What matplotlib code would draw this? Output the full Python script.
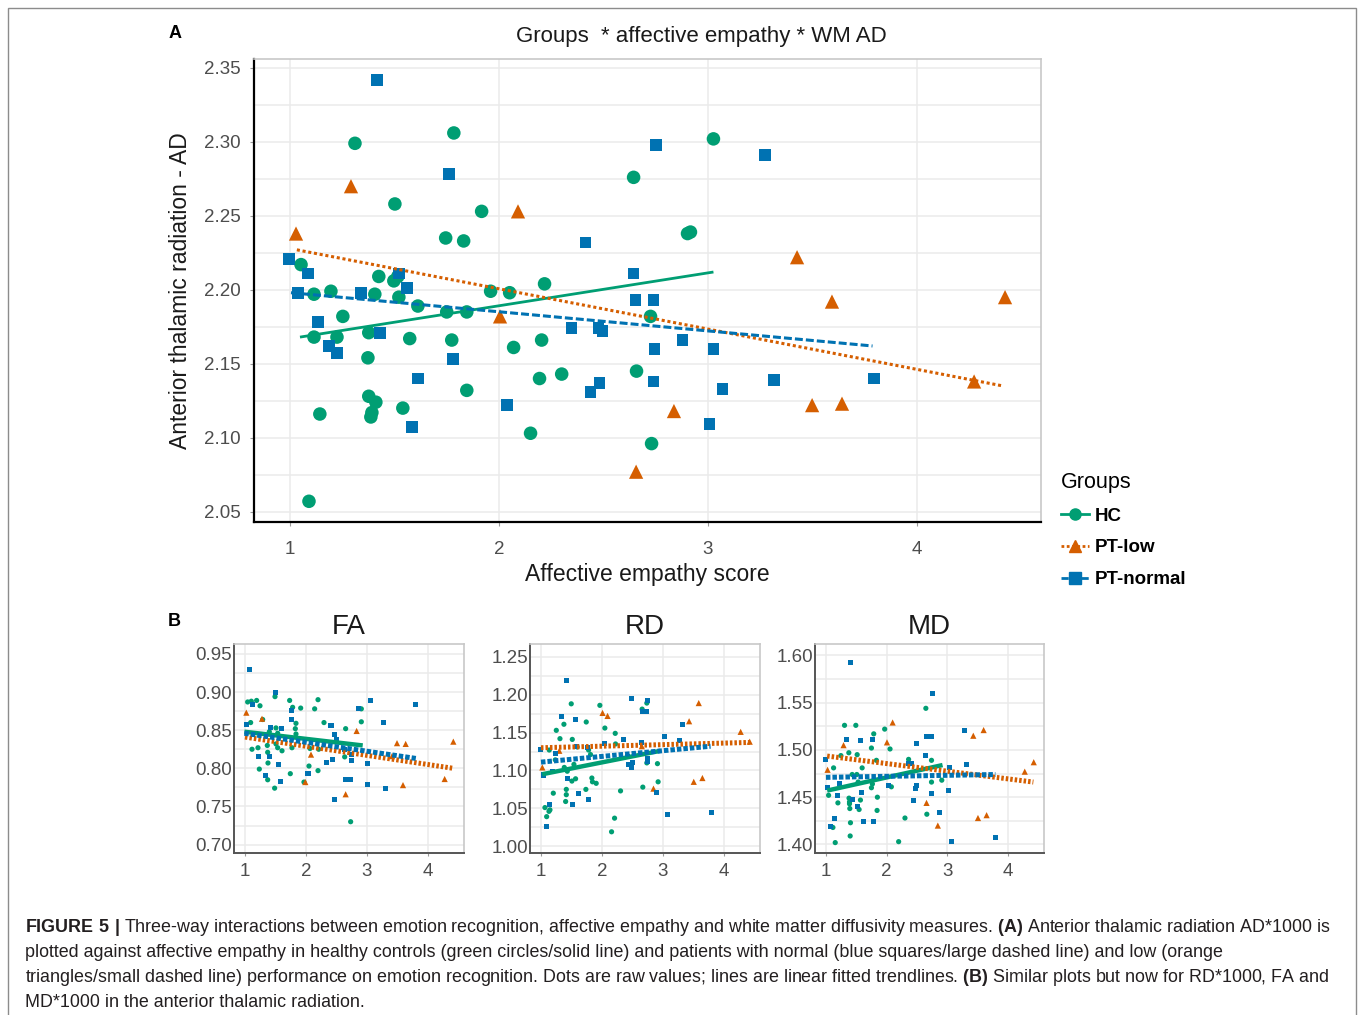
import matplotlib
matplotlib.use("Agg")
import matplotlib.pyplot as plt
from matplotlib.lines import Line2D
from matplotlib.patches import Rectangle
from matplotlib.ticker import MultipleLocator, FormatStrFormatter

plt.rcParams["font.family"] = ["Liberation Sans", "DejaVu Sans"]
plt.rcParams["mathtext.fontset"] = "custom"
plt.rcParams["mathtext.rm"] = "Liberation Sans"
plt.rcParams["mathtext.bf"] = "Liberation Sans:bold"

GROUPS = ["HC", "PT-low", "PT-normal"]
COLORS = {"HC": "#009E73", "PT-low": "#D55E00", "PT-normal": "#0072B2"}
MARKERS = {"HC": "o", "PT-low": "^", "PT-normal": "s"}

# ---- panel A: AD*1000 vs affective empathy ----
AD_HC_X = [1.311, 1.784, 3.026, 2.644, 1.502, 1.917, 1.745, 1.831, 2.902, 2.916, 1.053, 1.425,
           1.497, 1.516, 1.115, 1.196, 1.406, 1.521, 1.612, 1.750, 1.846, 1.960, 2.051, 2.218,
           2.725, 1.253, 1.115, 1.225, 1.377, 1.573, 1.774, 2.070, 2.204, 1.373, 2.658, 2.300,
           2.194, 1.846, 1.377, 1.411, 1.392, 1.387, 1.540, 1.143, 2.151, 2.730, 1.091]
AD_HC_Y = [2.299, 2.306, 2.302, 2.276, 2.258, 2.253, 2.235, 2.233, 2.238, 2.239, 2.217, 2.209,
           2.206, 2.209, 2.197, 2.199, 2.197, 2.195, 2.189, 2.185, 2.185, 2.199, 2.198, 2.204,
           2.182, 2.182, 2.168, 2.168, 2.171, 2.167, 2.166, 2.161, 2.166, 2.154, 2.145, 2.143,
           2.140, 2.132, 2.128, 2.124, 2.117, 2.114, 2.120, 2.116, 2.103, 2.096, 2.057]
AD_LOW_X = [1.029, 1.292, 2.091, 2.005, 2.656, 3.426, 3.593, 4.421, 4.273, 2.837, 3.498, 3.641]
AD_LOW_Y = [2.238, 2.270, 2.253, 2.182, 2.077, 2.222, 2.192, 2.195, 2.138, 2.118, 2.122, 2.123]
AD_NORM_X = [1.416, 1.760, 2.753, 3.274, 2.414, 0.995, 1.086, 1.521, 2.644, 1.559, 1.038, 1.339,
             2.653, 2.739, 1.134, 2.347, 2.476, 2.495, 1.430, 2.878, 1.186, 1.225, 2.744, 3.026,
             1.779, 1.612, 2.438, 2.481, 2.739, 3.069, 2.037, 1.583, 3.007, 3.317, 3.795]
AD_NORM_Y = [2.342, 2.278, 2.298, 2.291, 2.232, 2.221, 2.211, 2.211, 2.211, 2.201, 2.198, 2.198,
             2.193, 2.193, 2.178, 2.174, 2.174, 2.172, 2.171, 2.166, 2.162, 2.157, 2.160, 2.160,
             2.153, 2.140, 2.131, 2.137, 2.138, 2.133, 2.122, 2.107, 2.109, 2.139, 2.140]
# fitted trendline end points (x0, x1), (y0, y1)
AD_FIT_X = {"HC": [1.048, 3.026], "PT-low": [1.033, 4.410], "PT-normal": [1.005, 3.787]}
AD_FIT_Y = {"HC": [2.168, 2.212], "PT-low": [2.227, 2.135], "PT-normal": [2.198, 2.162]}

# ---- panel B: FA ----
FA_HC_X = [1.044, 1.104, 1.191, 1.093, 1.115, 1.213, 1.235, 1.290, 1.246, 1.366, 1.372, 1.377,
           1.372, 1.399, 1.492, 1.508, 1.536, 1.508, 1.536, 1.607, 1.486, 1.732, 1.781, 1.743,
           1.836, 1.825, 1.913, 1.770, 1.836, 1.967, 2.049, 2.066, 2.142, 2.197, 2.208, 2.197,
           2.295, 2.650, 2.634, 2.732, 2.907, 2.907]
FA_HC_Y = [0.887, 0.888, 0.889, 0.860, 0.825, 0.827, 0.799, 0.864, 0.882, 0.830, 0.821, 0.807,
           0.785, 0.848, 0.894, 0.853, 0.846, 0.832, 0.827, 0.823, 0.774, 0.889, 0.880, 0.793,
           0.859, 0.852, 0.879, 0.827, 0.845, 0.782, 0.803, 0.826, 0.878, 0.890, 0.825, 0.797,
           0.860, 0.852, 0.815, 0.730, 0.878, 0.861]
FA_LOW_X = [1.022, 1.279, 2.082, 1.989, 2.650, 2.830, 3.492, 3.634, 3.410, 3.590, 4.273, 4.415]
FA_LOW_Y = [0.873, 0.865, 0.818, 0.782, 0.766, 0.849, 0.833, 0.832, 0.816, 0.778, 0.786, 0.835]
FA_NORM_X = [1.077, 1.126, 1.503, 1.022, 1.765, 1.415, 1.601, 1.219, 1.410, 1.552, 1.585, 1.333,
             1.765, 2.033, 2.410, 2.470, 2.497, 2.344, 2.432, 2.470, 2.628, 2.645, 2.732, 2.749,
             2.738, 2.863, 3.060, 3.016, 3.005, 3.273, 3.311, 3.787]
FA_NORM_Y = [0.929, 0.884, 0.900, 0.857, 0.864, 0.854, 0.852, 0.816, 0.815, 0.805, 0.783, 0.790,
             0.876, 0.793, 0.856, 0.844, 0.838, 0.808, 0.811, 0.759, 0.825, 0.785, 0.785, 0.818,
             0.810, 0.879, 0.889, 0.806, 0.779, 0.860, 0.773, 0.884]
FA_FIT_X = {"HC": [0.99, 2.93], "PT-low": [1.00, 4.415], "PT-normal": [0.99, 3.80]}
FA_FIT_Y = {"HC": [0.848, 0.830], "PT-low": [0.841, 0.800], "PT-normal": [0.846, 0.813]}

# ---- panel B: RD ----
RD_HC_X = [1.065, 1.093, 1.131, 1.147, 1.136, 1.202, 1.251, 1.311, 1.235, 1.376, 1.382, 1.415,
           1.415, 1.404, 1.431, 1.496, 1.513, 1.540, 1.507, 1.567, 1.594, 1.742, 1.736, 1.780,
           1.812, 1.834, 1.844, 1.905, 1.965, 2.047, 2.206, 2.157, 2.217, 2.222, 2.304, 2.669,
           2.658, 2.735, 2.735, 2.909, 2.920]
RD_HC_Y = [1.051, 1.039, 1.046, 1.048, 1.127, 1.070, 1.153, 1.142, 1.114, 1.161, 1.104, 1.075,
           1.068, 1.059, 1.099, 1.188, 1.141, 1.108, 1.086, 1.089, 1.131, 1.164, 1.075, 1.127,
           1.121, 1.090, 1.085, 1.083, 1.186, 1.156, 1.037, 1.019, 1.149, 1.135, 1.073, 1.078,
           1.181, 1.189, 1.110, 1.109, 1.085]
RD_LOW_X = [1.022, 1.300, 2.009, 2.091, 2.653, 2.844, 3.428, 3.586, 3.504, 3.646, 4.273, 4.421]
RD_LOW_Y = [1.104, 1.126, 1.176, 1.172, 1.132, 1.076, 1.165, 1.189, 1.085, 1.090, 1.151, 1.138]
RD_NORM_X = [1.420, 1.338, 1.567, 1.000, 1.038, 1.196, 1.235, 1.142, 1.093, 1.442, 1.518, 1.589,
             1.611, 1.764, 1.780, 2.047, 2.353, 2.484, 2.418, 2.440, 2.484, 2.506, 2.642, 2.658,
             2.735, 2.751, 2.740, 2.740, 2.888, 3.024, 3.073, 3.275, 3.319, 3.793]
RD_NORM_Y = [1.219, 1.171, 1.167, 1.128, 1.094, 1.099, 1.122, 1.055, 1.026, 1.090, 1.055, 1.132,
             1.070, 1.130, 1.062, 1.135, 1.141, 1.195, 1.118, 1.108, 1.104, 1.111, 1.137, 1.178,
             1.178, 1.193, 1.116, 1.112, 1.071, 1.145, 1.042, 1.139, 1.161, 1.044]
RD_FIT_X = {"HC": [1.02, 2.96], "PT-low": [1.00, 4.42], "PT-normal": [1.00, 3.78]}
RD_FIT_Y = {"HC": [1.095, 1.126], "PT-low": [1.130, 1.137], "PT-normal": [1.111, 1.132]}

# ---- panel B: MD ----
MD_HC_X = [1.044, 1.126, 1.115, 1.153, 1.197, 1.246, 1.306, 1.377, 1.380, 1.388, 1.393, 1.388,
           1.404, 1.399, 1.432, 1.492, 1.514, 1.508, 1.546, 1.568, 1.596, 1.530, 1.749, 1.787,
           1.749, 1.765, 1.831, 1.847, 1.842, 1.967, 2.055, 2.077, 2.197, 2.301, 2.361, 2.366,
           2.645, 2.661, 2.738, 2.738, 2.907]
MD_HC_Y = [1.452, 1.481, 1.418, 1.402, 1.444, 1.494, 1.526, 1.497, 1.449, 1.445, 1.438, 1.443,
           1.423, 1.409, 1.474, 1.526, 1.495, 1.474, 1.437, 1.447, 1.481, 1.466, 1.502, 1.517,
           1.460, 1.464, 1.489, 1.450, 1.436, 1.522, 1.501, 1.461, 1.403, 1.428, 1.490, 1.485,
           1.544, 1.432, 1.489, 1.466, 1.468]
MD_LOW_X = [1.027, 1.290, 2.005, 2.098, 2.656, 2.842, 3.426, 3.596, 3.503, 3.645, 4.273, 4.421]
MD_LOW_Y = [1.479, 1.505, 1.508, 1.529, 1.444, 1.420, 1.515, 1.521, 1.428, 1.431, 1.477, 1.487]
MD_NORM_X = [1.410, 2.754, 0.995, 1.033, 1.230, 1.191, 1.137, 1.082, 1.339, 1.437, 1.525, 1.563,
             1.585, 1.612, 1.765, 1.776, 2.038, 2.355, 2.415, 2.443, 2.486, 2.481, 2.497, 2.639,
             2.656, 2.738, 2.743, 2.874, 3.027, 3.016, 3.071, 3.279, 3.322, 3.798]
MD_NORM_Y = [1.592, 1.560, 1.490, 1.460, 1.465, 1.452, 1.428, 1.419, 1.511, 1.448, 1.440, 1.510,
             1.455, 1.424, 1.511, 1.424, 1.462, 1.486, 1.486, 1.447, 1.507, 1.459, 1.462, 1.494,
             1.514, 1.514, 1.454, 1.434, 1.481, 1.457, 1.403, 1.521, 1.485, 1.407]
MD_FIT_X = {"HC": [1.02, 2.92], "PT-low": [1.02, 4.415], "PT-normal": [1.00, 3.79]}
MD_FIT_Y = {"HC": [1.457, 1.484], "PT-low": [1.4935, 1.466], "PT-normal": [1.471, 1.474]}

CAPTION = [
    r"$\mathbf{FIGURE\ 5\ |}$ Three-way interactions between emotion recognition, affective empathy "
    r"and white matter diffusivity measures. $\mathbf{(A)}$ Anterior thalamic radiation AD*1000 is",
    "plotted against affective empathy in healthy controls (green circles/solid line) and patients "
    "with normal (blue squares/large dashed line) and low (orange",
    r"triangles/small dashed line) performance on emotion recognition. Dots are raw values; lines are "
    r"linear fitted trendlines. $\mathbf{(B)}$ Similar plots but now for RD*1000, FA and",
    "MD*1000 in the anterior thalamic radiation.",
]

W, H = 1358, 1015
TICK_GREY = "#4d4d4d"
GRID = "#ebebeb"


def fx(px):
    return px / W


def fy(py):
    return 1 - py / H


def style_axes(ax, xlim, ylim, ystep, big):
    ax.set_xlim(*xlim)
    ax.set_ylim(*ylim)
    ax.xaxis.set_major_locator(MultipleLocator(1))
    ax.yaxis.set_major_locator(MultipleLocator(ystep))
    ax.yaxis.set_minor_locator(MultipleLocator(ystep / 2))
    ax.yaxis.set_major_formatter(FormatStrFormatter("%.2f"))
    ax.grid(True, which="major", color=GRID, lw=1.1)
    ax.grid(True, which="minor", axis="y", color=GRID, lw=1.1)
    ax.set_axisbelow(True)
    for side in ("top", "right"):
        ax.spines[side].set_color("#c8c8c8")
        ax.spines[side].set_linewidth(1.2)
    for side in ("left", "bottom"):
        ax.spines[side].set_color("black" if big else "#555555")
        ax.spines[side].set_linewidth(1.6 if big else 1.4)
    ax.tick_params(which="minor", length=0)
    ax.tick_params(which="major", length=3 if big else 2, width=0.8, color="#9a9a9a",
                   labelsize=13.5, labelcolor=TICK_GREY)
    if big:
        ax.tick_params(axis="y", pad=6.5)
        ax.tick_params(axis="x", pad=11)
    else:
        ax.tick_params(axis="y", pad=1.5, length=0)
        ax.tick_params(axis="x", pad=5)


def draw_groups(ax, xs, ys, fit_x, fit_y, sizes, styles, lws):
    for g in GROUPS:
        ax.scatter(xs[g], ys[g], s=sizes[g], marker=MARKERS[g], color=COLORS[g],
                   edgecolors="none", zorder=3, clip_on=False)
    for g in GROUPS:
        ax.plot(fit_x[g], fit_y[g], color=COLORS[g], linestyle=styles[g], lw=lws[g],
                zorder=4, solid_capstyle="butt", dash_capstyle="butt")


fig = plt.figure(figsize=(W / 100, H / 100), dpi=100)

# ---------------- panel A ----------------
ax_a = fig.add_axes([fx(254), fy(522), fx(1041) - fx(254), fy(59) - fy(522)])
style_axes(ax_a, (0.828, 4.593), (2.043, 2.356), 0.05, big=True)
A_STYLES = {"HC": "-", "PT-low": (0, (1, 0.9)), "PT-normal": (0, (2.6, 1.0))}
draw_groups(ax_a,
            {"HC": AD_HC_X, "PT-low": AD_LOW_X, "PT-normal": AD_NORM_X},
            {"HC": AD_HC_Y, "PT-low": AD_LOW_Y, "PT-normal": AD_NORM_Y},
            AD_FIT_X, AD_FIT_Y,
            {"HC": 95, "PT-low": 105, "PT-normal": 72},
            A_STYLES,
            {"HC": 2.0, "PT-low": 2.2, "PT-normal": 2.2})
ax_a.set_ylabel("Anterior thalamic radiation - AD", fontsize=16.5, labelpad=9, color="#1a1a1a")
ax_a.set_xlabel("Affective empathy score", fontsize=16.5, labelpad=3, color="#1a1a1a")
ax_a.set_title("Groups  * affective empathy * WM AD", fontsize=16, x=0.568, pad=12,
               color="#1a1a1a")

handles = [Line2D([], [], color=COLORS[g], marker=MARKERS[g], linestyle=A_STYLES[g], lw=2.0,
                  markersize=8) for g in GROUPS]
fig.legend(handles, GROUPS, loc="upper left", bbox_to_anchor=(fx(1061), fy(472)),
           frameon=False, title="Groups", title_fontsize=15.5,
           prop={"size": 13.5, "weight": "bold"}, handlelength=1.5, handletextpad=0.3,
           labelspacing=0.78, alignment="left", borderaxespad=0, borderpad=0)

# ---------------- panel B ----------------
B_STYLES = {"HC": "-", "PT-low": (0, (0.5, 0.4)), "PT-normal": (0, (0.9, 0.4))}
B_LWS = {"HC": 3.2, "PT-low": 3.6, "PT-normal": 3.6}
B_SIZES = {"HC": 14, "PT-low": 20, "PT-normal": 13}
panels = [
    ("FA", 234, 464, (0.689, 0.963), 0.05,
     {"HC": FA_HC_X, "PT-low": FA_LOW_X, "PT-normal": FA_NORM_X},
     {"HC": FA_HC_Y, "PT-low": FA_LOW_Y, "PT-normal": FA_NORM_Y}, FA_FIT_X, FA_FIT_Y),
    ("RD", 530, 760, (0.991, 1.267), 0.05,
     {"HC": RD_HC_X, "PT-low": RD_LOW_X, "PT-normal": RD_NORM_X},
     {"HC": RD_HC_Y, "PT-low": RD_LOW_Y, "PT-normal": RD_NORM_Y}, RD_FIT_X, RD_FIT_Y),
    ("MD", 815, 1044, (1.391, 1.612), 0.05,
     {"HC": MD_HC_X, "PT-low": MD_LOW_X, "PT-normal": MD_NORM_X},
     {"HC": MD_HC_Y, "PT-low": MD_LOW_Y, "PT-normal": MD_NORM_Y}, MD_FIT_X, MD_FIT_Y),
]
for name, left, right, ylim, ystep, xs, ys, fit_x, fit_y in panels:
    ax = fig.add_axes([fx(left), fy(853), fx(right) - fx(left), fy(644) - fy(853)])
    style_axes(ax, (0.82, 4.59), ylim, ystep, big=False)
    draw_groups(ax, xs, ys, fit_x, fit_y, B_SIZES, B_STYLES, B_LWS)
    ax.set_title(name, fontsize=20, pad=7, color="#1a1a1a")

# ---------------- labels, caption, frame ----------------
fig.text(fx(175), fy(34), "A", fontsize=13, fontweight="bold", ha="center", va="center")
fig.text(fx(174), fy(621), "B", fontsize=13, fontweight="bold", ha="center", va="center")

for i, line in enumerate(CAPTION):
    fig.text(fx(25), fy(932 + 25 * i), line, fontsize=12.9, color="#231f20",
             ha="left", va="baseline")

fig.add_artist(Rectangle((fx(8), fy(1030)), fx(1356) - fx(8), fy(8) - fy(1030),
                         transform=fig.transFigure, fill=False, edgecolor="#8c8c8c", lw=1.0))

fig.savefig("out.png", dpi=100, facecolor="white")
